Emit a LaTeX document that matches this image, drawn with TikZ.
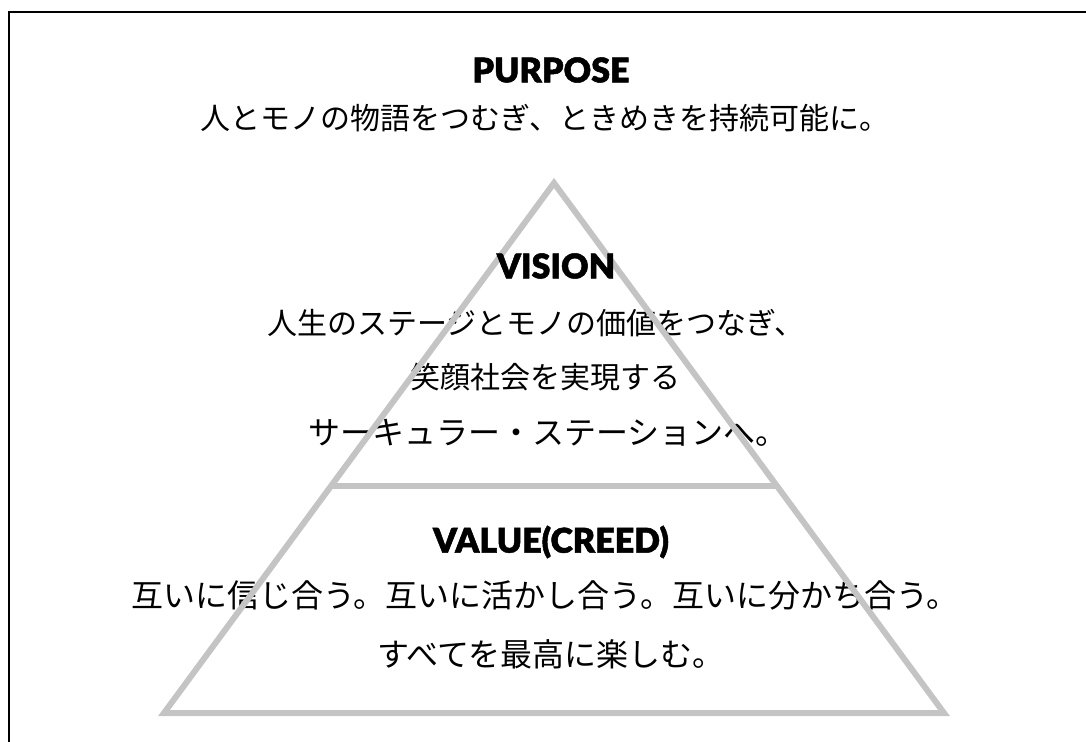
\documentclass[tikz,border=0pt]{standalone}
\usepackage{fontspec}
\usetikzlibrary{calc,positioning}
\newfontfamily\jpfont{Noto Sans CJK JP}
\newfontfamily\headfont[FakeBold=1.5]{Lato Black}
\definecolor{pyr}{HTML}{C4C4C4}

\begin{document}
\begin{tikzpicture}[x=0.75pt,y=-0.75pt,
		head/.style={font=\headfont\fontsize{25.5}{30}\selectfont,inner sep=0pt},
		body/.style={font=\jpfont\fontsize{22.5}{27}\selectfont,inner sep=0pt},
		bodylarge/.style={font=\jpfont\fontsize{24}{29}\selectfont,inner sep=0pt},
		edge/.style={pyr,line width=4.5pt}]
		\useasboundingbox (0,0) rectangle (1086,742);
		\draw[line width=1.5pt] (9,742) -- (9,12) -- (1086,12);
		% purpose
		\node[head] (purpose) at (551,70) {PURPOSE};
		\node[body] (purposetext) at (545,118) {人とモノの物語をつむぎ、ときめきを持続可能に。};
		% vision
		\node[body] (visionA) at (536,323) {人生のステージとモノの価値をつなぎ、};
		\node[body] (visionB) at (545,377) {笑顔社会を実現する};
		\node[bodylarge] (visionC) at (548,433) {サーキュラー・ステーションへ。};
		% value
		\node[bodylarge] (valueA) at (545,595) {互いに信じ合う。互いに活かし合う。互いに分かち合う。};
		\node[bodylarge] (valueB) at (551,654) {すべてを最高に楽しむ。};
		% pyramid
		\coordinate (apex) at (554,183);
		\coordinate (baseL) at (164,713);
		\coordinate (baseR) at (944,713);
		\draw[edge] (apex) -- (baseR) -- (baseL) -- cycle;
		\draw[edge] ($(apex)!0.572!(baseL)$) -- ($(apex)!0.572!(baseR)$);
		\node[head] (vision) at (556,266) {VISION};
		\node[head] (value) at (551,542) {VALUE(CREED)};
	\end{tikzpicture}
\end{document}
